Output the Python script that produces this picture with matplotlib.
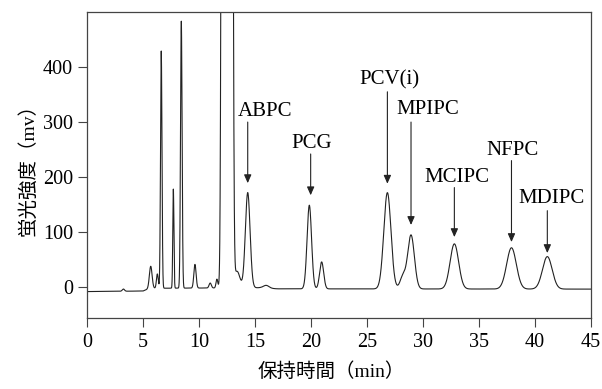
import numpy as np
import matplotlib
matplotlib.use('Agg')
import matplotlib.pyplot as plt

# Peaks: retention time (min), height (mV), sigma (min)
peak_time = [3.25, 5.69, 6.28, 6.63, 7.71, 8.42, 9.64, 11.0, 11.6,
             12.2, 12.5, 12.8, 13.4, 14.35, 16.0, 19.85, 20.95,
             26.82, 28.2, 28.93, 32.8, 37.9, 41.1]
peak_height = [4, 40, 26, 431, 180, 485, 43, 9, 16,
               5200, 5200, 5200, 30, 173, 5, 152, 49,
               175, 22, 98, 82, 75, 59]
peak_sigma = [0.1, 0.12, 0.08, 0.065, 0.05, 0.07, 0.1, 0.1, 0.08,
              0.12, 0.12, 0.13, 0.25, 0.21, 0.25, 0.2, 0.18,
              0.32, 0.25, 0.3, 0.38, 0.43, 0.43]

# Baseline drift
base_time = [0, 5.0, 5.6, 15.5, 17.0, 45]
base_level = [-8, -7, -2, -1, -3, -3.5]

# Peak labels and arrows
names = ['ABPC', 'PCG', 'PCV(i)', 'MPIPC', 'MCIPC', 'NFPC', 'MDIPC']
arrow_x = [14.35, 19.97, 26.82, 28.93, 32.8, 37.9, 41.1]
arrow_top = [300, 242, 355, 300, 181, 230, 139]
arrow_tip = [189, 167, 188, 113, 91, 82, 62]
label_x = [15.9, 20.1, 27.0, 30.4, 33.0, 38.0, 41.5]
label_y = [320, 261, 376, 322, 200, 249, 161]

plt.rcParams['font.family'] = ['Liberation Serif', 'Noto Sans CJK JP']

t = np.arange(0, 45.0001, 0.005)
signal = np.interp(t, base_time, base_level)
for c, h, s in zip(peak_time, peak_height, peak_sigma):
    signal = signal + h*np.exp(-0.5*((t-c)/s)**2)

fig = plt.figure(figsize=(6.02, 3.89), dpi=100)
ax = fig.add_axes([87/602, 1-318/389, 504/602, 306/389])
ax.plot(t, signal, color='#222222', lw=0.8)
ax.set_xlim(0, 45)
ax.set_ylim(-56, 500)
ax.set_xticks(range(0, 50, 5))
ax.set_yticks([0, 100, 200, 300, 400])
ax.tick_params(direction='out', length=6.5, width=0.8, labelsize=14.5, color='#444444')
ax.tick_params(axis='x', pad=4.5)
ax.tick_params(axis='y', pad=3.5)
for sp in ax.spines.values():
    sp.set_linewidth(0.9)
    sp.set_color('#444444')

for ii in range(len(names)):
    ax.annotate('', xy=(arrow_x[ii], arrow_tip[ii]), xytext=(arrow_x[ii], arrow_top[ii]),
                arrowprops=dict(arrowstyle='-|>,head_length=0.5,head_width=0.22',
                                color='#222222', lw=0.8, shrinkA=0, shrinkB=0))
    ax.text(label_x[ii], label_y[ii], names[ii], ha='center', va='center', fontsize=15)

ax.set_xlabel('保持時間（min）', fontsize=14)
ax.xaxis.set_label_coords(0.485, -0.145)
ax.set_ylabel('蛍光強度（mv）', fontsize=14, labelpad=4)

fig.savefig('out.png', dpi=100)
